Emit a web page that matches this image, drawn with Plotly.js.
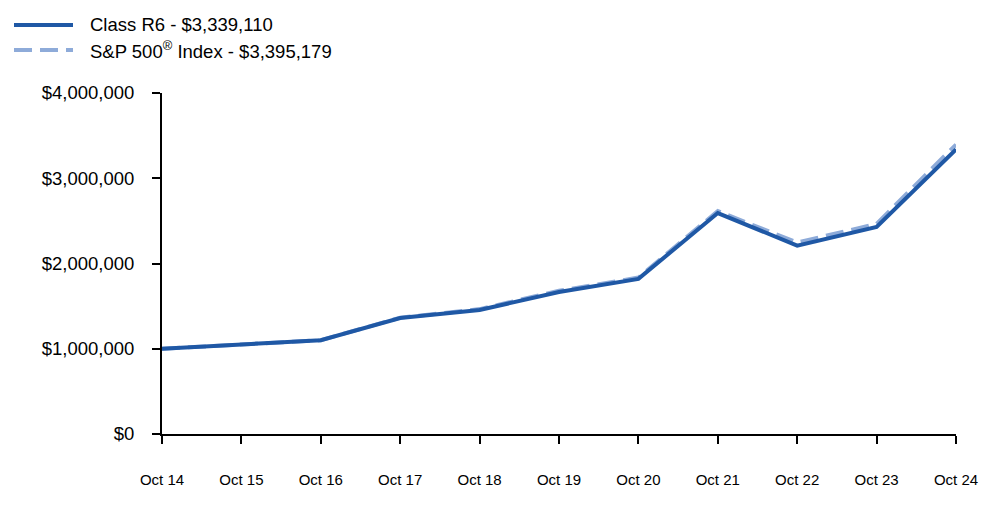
<!DOCTYPE html>
<html>
<head>
<meta charset="utf-8">
<script src="https://cdn.plot.ly/plotly-3.0.1.min.js"></script>
<style>html,body{margin:0;padding:0;background:#fff;}#chart{width:1000px;height:523px;}</style>
</head>
<body>
<div id="chart"></div>
<script>
const categories = ["Oct 14","Oct 15","Oct 16","Oct 17","Oct 18","Oct 19","Oct 20","Oct 21","Oct 22","Oct 23","Oct 24"];
const classR6 = [1000000,1055000,1100000,1360000,1455000,1665000,1820000,2592000,2210000,2430000,3339110];
const sp500 = [1000000,1050000,1100000,1365000,1465000,1680000,1835000,2615000,2245000,2465000,3395179];
const seriesNames = ["Class R6 - $3,339,110","S&P 500<sup>®</sup> Index - $3,395,179"];
const yTickVals = [0,1000000,2000000,3000000,4000000];
const yTickText = ["$0","$1,000,000","$2,000,000","$3,000,000","$4,000,000"];

const solidColor = "#1f58a5";
const dashColor = "#8eabd9";
const xIdx = categories.map((_, i) => i);

const traces = [
  {x: xIdx, y: sp500, type: "scatter", mode: "lines", name: seriesNames[1],
   line: {color: dashColor, width: 4, dash: "18px,8px"}, hoverinfo: "skip"},
  {x: xIdx, y: classR6, type: "scatter", mode: "lines", name: seriesNames[0],
   line: {color: solidColor, width: 4}, hoverinfo: "skip"}
];

const L = 162, R = 956, T = 93, B = 434;
const px = p => (p - L) / (R - L);
const py = p => (B - p) / (B - T);

const layout = {
  width: 1000, height: 523,
  margin: {l: L, r: 1000 - R, t: T, b: 523 - B},
  paper_bgcolor: "#fff", plot_bgcolor: "#fff",
  showlegend: false,
  font: {family: "Liberation Sans, Arial, sans-serif", color: "#000", size: 18},
  xaxis: {
    range: [0, 10], tickvals: xIdx, ticktext: categories,
    showgrid: false, zeroline: false, showline: true, linecolor: "#000", linewidth: 2,
    ticks: "outside", ticklen: 8, tickwidth: 2, tickcolor: "#000",
    ticklabelstandoff: 23,
    tickfont: {family: "Liberation Sans, Arial, sans-serif", size: 15, color: "#000"},
    fixedrange: true
  },
  yaxis: {
    range: [0, 4000000], tickvals: yTickVals, ticktext: yTickText,
    showgrid: false, zeroline: false, showline: true, linecolor: "#000", linewidth: 2,
    ticks: "outside", ticklen: 8, tickwidth: 2, tickcolor: "#000",
    ticklabelstandoff: 14,
    tickfont: {family: "Liberation Sans, Arial, sans-serif", size: 18.5, color: "#000"},
    fixedrange: true
  },
  shapes: [
    {type: "line", xref: "paper", yref: "paper", x0: px(14), x1: px(73), y0: py(25), y1: py(25),
     line: {color: solidColor, width: 4}},
    {type: "line", xref: "paper", yref: "paper", x0: px(14), x1: px(73), y0: py(50), y1: py(50),
     line: {color: dashColor, width: 4, dash: "18px,8px"}}
  ],
  annotations: [
    {xref: "paper", yref: "paper", x: px(88), y: py(25), xanchor: "left", yanchor: "middle",
     text: seriesNames[0], showarrow: false, font: {size: 18.5, color: "#000"}},
    {xref: "paper", yref: "paper", x: px(88), y: py(50), xanchor: "left", yanchor: "middle",
     text: seriesNames[1], showarrow: false, font: {size: 18.5, color: "#000"}}
  ]
};

Plotly.newPlot("chart", traces, layout, {displayModeBar: false, staticPlot: true});
</script>
</body>
</html>
